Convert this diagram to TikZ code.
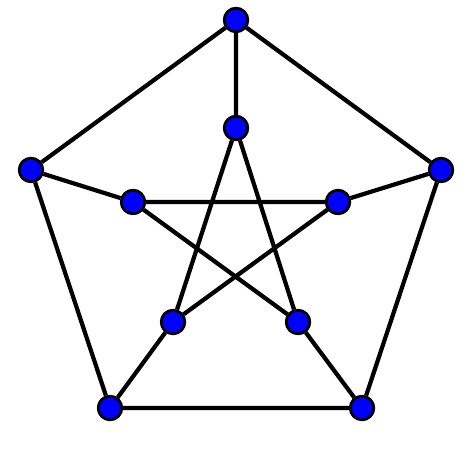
\documentclass[tikz,border=0pt]{standalone}
\begin{document}
\begin{tikzpicture}[x=0.01cm,y=-0.01cm,
  vtx/.style={circle,fill=blue,draw=black,line width=0.75pt,minimum size=0.235cm,inner sep=0pt},
  edge/.style={line width=1.2pt,black}]
\useasboundingbox (0,0) rectangle (474,474);
\node[vtx] (o1) at (236,20) {};
\node[vtx] (o2) at (441,170) {};
\node[vtx] (o3) at (362,408) {};
\node[vtx] (o4) at (110,408) {};
\node[vtx] (o5) at (31,170) {};
\node[vtx] (i1) at (236,128) {};
\node[vtx] (i2) at (338,202) {};
\node[vtx] (i3) at (298,322) {};
\node[vtx] (i4) at (173,322) {};
\node[vtx] (i5) at (133,202) {};
\draw[edge] (o1)--(o2) (o2)--(o3) (o3)--(o4) (o4)--(o5) (o5)--(o1);
\draw[edge] (o1)--(i1) (o2)--(i2) (o3)--(i3) (o4)--(i4) (o5)--(i5);
\draw[edge] (i1)--(i4) (i4)--(i2) (i2)--(i5) (i5)--(i3) (i3)--(i1);
\foreach \n in {o1,o2,o3,o4,o5,i1,i2,i3,i4,i5} \node[vtx] at (\n) {};
\end{tikzpicture}
\end{document}
